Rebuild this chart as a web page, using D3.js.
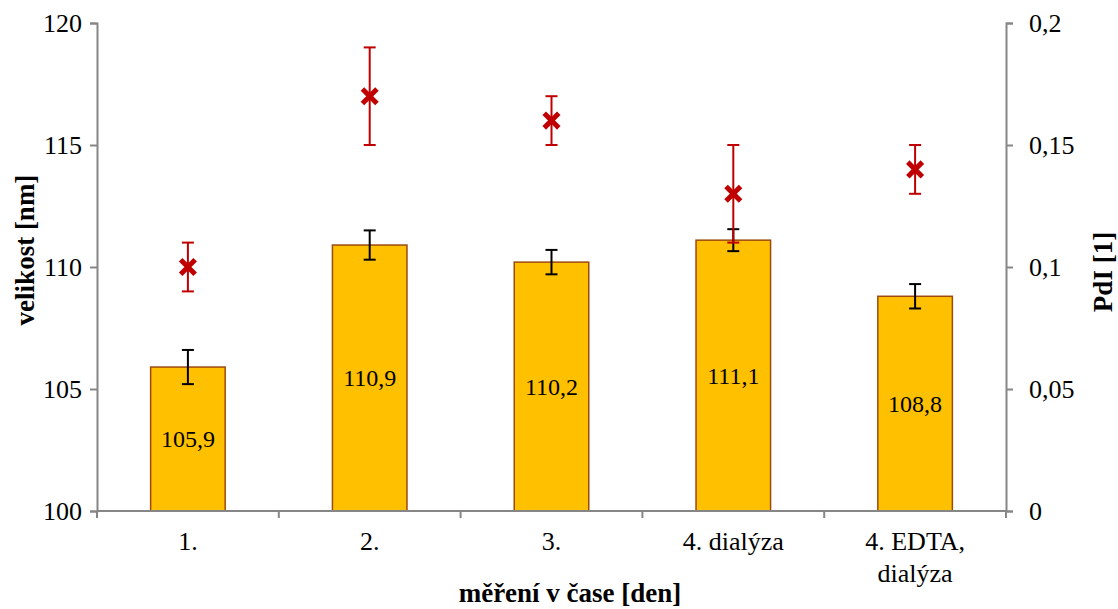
<!DOCTYPE html>
<html><head><meta charset="utf-8">
<script src="https://cdn.jsdelivr.net/npm/d3@7"></script>
<style>body{margin:0;background:#fff}svg{display:block}</style>
</head><body><svg id="c" width="1118" height="609"></svg>
<script>
const categories = [["1."],["2."],["3."],["4. dialýza"],["4. EDTA,","dialýza"]];
const sizeValues = [105.9, 110.9, 110.2, 111.1, 108.8];
const sizeErrors = [0.7, 0.6, 0.5, 0.45, 0.5];
const sizeLabels = ["105,9","110,9","110,2","111,1","108,8"];
const pdiValues = [0.10, 0.17, 0.16, 0.13, 0.14];
const pdiErrors = [0.01, 0.02, 0.01, 0.02, 0.01];
const leftTicks = [100,105,110,115,120];
const rightTicks = [0,0.05,0.1,0.15,0.2];
const rightTickLabels = ["0","0,05","0,1","0,15","0,2"];

const FONT = "'Liberation Serif','Times New Roman',Times,'DejaVu Serif',serif";
const svg = d3.select("#c").attr("font-family",FONT);
const L=97, R=1006, T=23, B=511;
const idx = d3.range(categories.length);
const x = d3.scaleBand().domain(idx).range([L,R]).paddingInner(0.59).paddingOuter(0.295);
const xb = d3.scaleBand().domain(idx).range([L,R]);
const yL = d3.scaleLinear().domain([100,120]).range([B,T]);
const yR = d3.scaleLinear().domain([0,0.2]).range([B,T]);
const axisColor="#868686";

// bars
svg.selectAll("rect.bar").data(idx).enter().append("rect")
 .attr("x",i=>x(i)).attr("width",x.bandwidth())
 .attr("y",i=>yL(sizeValues[i])).attr("height",i=>B-yL(sizeValues[i]))
 .attr("fill","#FFC000").attr("stroke","#9C4A0E").attr("stroke-width",1.5);

// axes
const gL = svg.append("g").attr("transform",`translate(${L},0)`)
 .call(d3.axisLeft(yL).tickValues(leftTicks).tickSize(7).tickPadding(8).tickFormat(d3.format("d")));
const gR = svg.append("g").attr("transform",`translate(${R},0)`)
 .call(d3.axisRight(yR).tickValues(rightTicks).tickSize(7).tickPadding(16).tickFormat((d,i)=>rightTickLabels[i]));
const gB = svg.append("g").attr("transform",`translate(0,${B})`)
 .call(d3.axisBottom(xb).tickSize(0).tickFormat(""));
[gL,gR,gB].forEach(g=>{
  g.attr("font-family",FONT).attr("font-size",26);
  g.select(".domain").attr("stroke",axisColor).attr("stroke-width",2);
  g.selectAll(".tick line").attr("stroke",axisColor).attr("stroke-width",2);
  g.selectAll(".tick text").attr("fill","#000");
});
gB.select(".domain").attr("d",`M${L},0H${R}`);
// category boundary ticks
const bounds = d3.range(categories.length+1).map(i=> i<categories.length ? xb(i) : R);
svg.append("g").selectAll("line").data(bounds).enter().append("line")
 .attr("x1",d=>d).attr("x2",d=>d).attr("y1",B).attr("y2",B+7)
 .attr("stroke",axisColor).attr("stroke-width",2);

// category labels
const cl = svg.append("g").attr("font-size",26).selectAll("text").data(idx).enter().append("text")
 .attr("x",i=>xb(i)+xb.bandwidth()/2).attr("y",550).attr("text-anchor","middle");
cl.each(function(i){
  const t=d3.select(this);
  categories[i].forEach((s,k)=>t.append("tspan").attr("x",xb(i)+xb.bandwidth()/2).attr("dy",k?32:0).text(s));
});

// size error bars
const eb = svg.append("g").attr("stroke","#000").attr("stroke-width",2);
idx.forEach(i=>{
  const cx=x(i)+x.bandwidth()/2, y1=yL(sizeValues[i]+sizeErrors[i]), y2=yL(sizeValues[i]-sizeErrors[i]);
  eb.append("line").attr("x1",cx).attr("x2",cx).attr("y1",y1).attr("y2",y2);
  eb.append("line").attr("x1",cx-6).attr("x2",cx+6).attr("y1",y1).attr("y2",y1);
  eb.append("line").attr("x1",cx-6).attr("x2",cx+6).attr("y1",y2).attr("y2",y2);
});

// bar labels
svg.append("g").attr("font-size",24).selectAll("text").data(idx).enter().append("text")
 .attr("x",i=>x(i)+x.bandwidth()/2).attr("y",i=>(yL(sizeValues[i])+B)/2+8)
 .attr("text-anchor","middle").text(i=>sizeLabels[i]);

// PdI error bars
const pe = svg.append("g").attr("stroke","#C00000").attr("stroke-width",2);
idx.forEach(i=>{
  const cx=x(i)+x.bandwidth()/2, y1=yR(pdiValues[i]+pdiErrors[i]), y2=yR(pdiValues[i]-pdiErrors[i]);
  pe.append("line").attr("x1",cx).attr("x2",cx).attr("y1",y1).attr("y2",y2);
  pe.append("line").attr("x1",cx-6).attr("x2",cx+6).attr("y1",y1).attr("y2",y1);
  pe.append("line").attr("x1",cx-6).attr("x2",cx+6).attr("y1",y2).attr("y2",y2);
});
// PdI markers
svg.append("g").selectAll("path").data(idx).enter().append("path")
 .attr("transform",i=>`translate(${x(i)+x.bandwidth()/2},${yR(pdiValues[i])})`)
 .attr("d","M-5.5,-5.5L5.5,5.5M5.5,-5.5L-5.5,5.5")
 .attr("stroke","#C00000").attr("stroke-width",5).attr("stroke-linecap","square");

// axis titles
svg.append("text").attr("transform",`translate(34,250) rotate(-90)`)
 .attr("text-anchor","middle").attr("font-size",27).attr("font-weight","bold").text("velikost [nm]");
svg.append("text").attr("transform",`translate(1112,272) rotate(-90)`)
 .attr("text-anchor","middle").attr("font-size",27).attr("font-weight","bold").text("PdI [1]");
svg.append("text").attr("x",570).attr("y",602).attr("text-anchor","middle")
 .attr("font-size",27).attr("font-weight","bold").text("měření v čase [den]");
</script></body></html>
